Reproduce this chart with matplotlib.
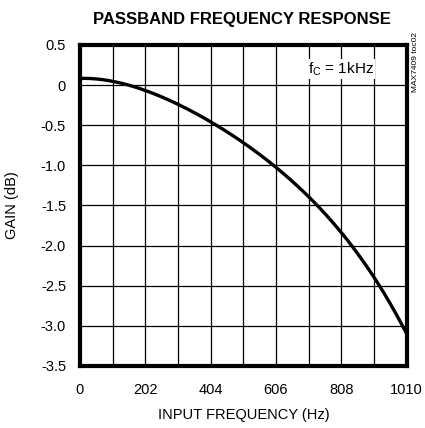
import matplotlib
matplotlib.use('Agg')
import matplotlib.pyplot as plt
import numpy as np

plt.rcParams['font.family'] = ['Liberation Sans Narrow', 'Liberation Sans', 'DejaVu Sans']

# Curve (Hz, dB)
freq_hz = [0, 101, 202, 303, 404, 505, 606, 707, 808, 909, 1010]
gain_db = [0.085, 0.04, -0.06, -0.24, -0.46, -0.72, -1.02, -1.40, -1.83, -2.40, -3.10]

x_ticks = [0, 202, 404, 606, 808, 1010]
y_ticks = [0.5, 0, -0.5, -1.0, -1.5, -2.0, -2.5, -3.0, -3.5]
y_labels = ['0.5', '0', '-0.5', '-1.0', '-1.5', '-2.0', '-2.5', '-3.0', '-3.5']

fig = plt.figure(figsize=(4.25, 4.28), dpi=100)
ax = fig.add_axes([0.188, 0.145, 0.769, 0.75])

# smooth curve through the read points
xs = np.linspace(0, 1010, 300)
coef = np.polyfit(freq_hz, gain_db, 4)
ax.plot(xs, np.polyval(coef, xs), color='black', linewidth=2.4, solid_capstyle='butt')

ax.set_xlim(0, 1010)
ax.set_ylim(-3.5, 0.5)
ax.set_xticks(np.arange(0, 1011, 101), minor=True)
ax.set_xticks(x_ticks)
ax.set_yticks(y_ticks)
ax.set_yticklabels(y_labels)
ax.grid(True, which='both', color='black', linewidth=0.9)
ax.tick_params(which='both', length=0, labelsize=10.5)
ax.tick_params(axis='x', pad=12)
ax.tick_params(axis='y', pad=10)

for sp in ax.spines.values():
    sp.set_linewidth(3)

ax.set_xlabel('INPUT FREQUENCY (Hz)', fontsize=10.5, labelpad=8)
ax.set_ylabel('GAIN (dB)', fontsize=10.5, labelpad=16)
fig.text(0.57, 0.955, 'PASSBAND FREQUENCY RESPONSE', ha='center', va='center',
         fontsize=12, fontweight='bold')

ax.text(0.90, 0.925, r'f$_\mathregular{C}$ = 1kHz', transform=ax.transAxes,
        ha='right', va='center', fontsize=11,
        bbox=dict(facecolor='white', edgecolor='none', pad=1))
fig.text(0.978, 0.855, 'MAX7409 toc02', rotation=90, ha='center', va='center', fontsize=6)

fig.savefig('out.png', dpi=100)
